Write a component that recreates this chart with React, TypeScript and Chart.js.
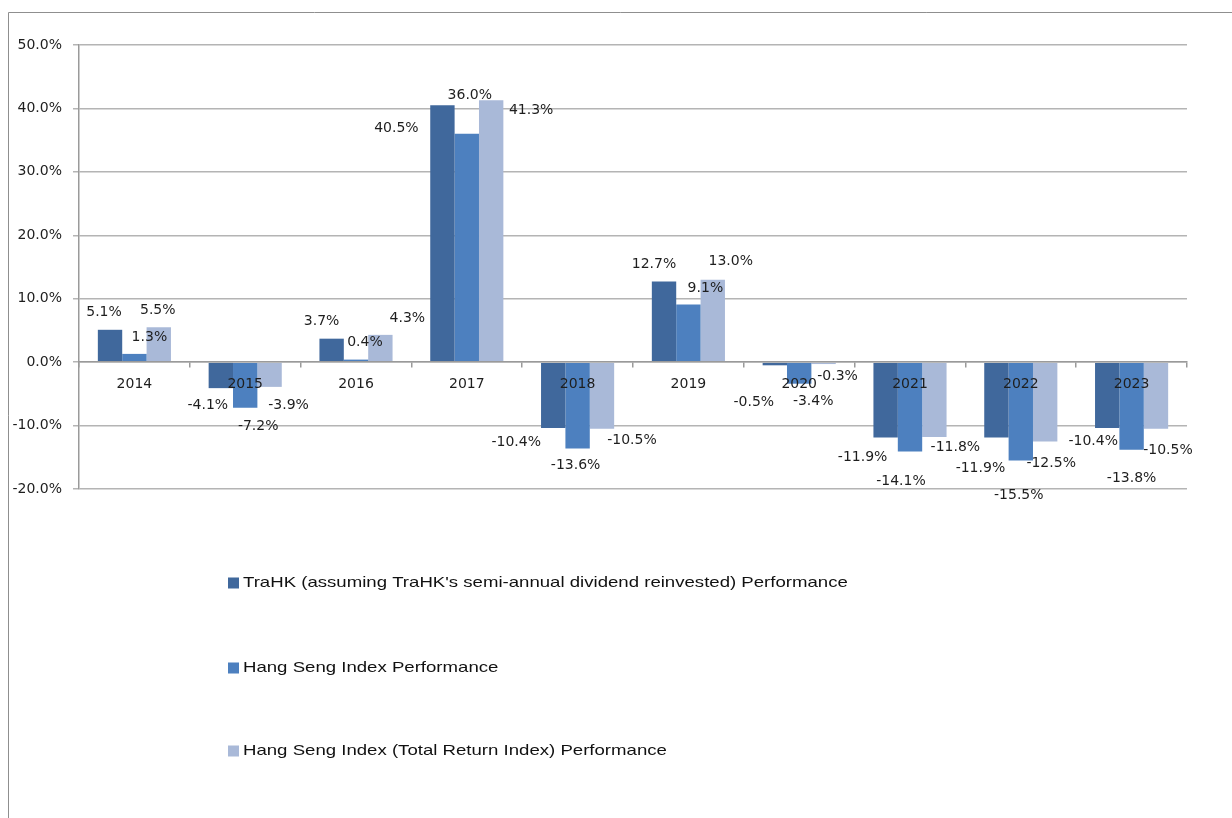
import React, { useEffect, useRef } from "react";
import { Chart, registerables } from "chart.js";

Chart.register(...registerables);

const categories = ["2014", "2015", "2016", "2017", "2018", "2019", "2020", "2021", "2022", "2023"];
const trahk = [5.1, -4.1, 3.7, 40.5, -10.4, 12.7, -0.5, -11.9, -11.9, -10.4];
const hsi = [1.3, -7.2, 0.4, 36.0, -13.6, 9.1, -3.4, -14.1, -15.5, -13.8];
const hsiTr = [5.5, -3.9, 4.3, 41.3, -10.5, 13.0, -0.3, -11.8, -12.5, -10.5];
const seriesNames = [
  "TraHK (assuming TraHK's semi-annual dividend reinvested) Performance",
  "Hang Seng Index Performance",
  "Hang Seng Index (Total Return Index) Performance",
];
const yTicks = [-20, -10, 0, 10, 20, 30, 40, 50];

// label placement nudges (dx, dy) from each bar's end, in pixels
const nudgeTrahk = [[-6, -17], [-13, 17], [-10, -17], [-46, 23], [-37, 14], [-10, -17], [-21, 37], [-23, 20], [-16, 31], [-14, 13]];
const nudgeHsi = [[15, -17], [13, 19], [9, -17], [3, -38], [-2, 17], [17, -16], [14, 18], [-9, 30], [-2, 35], [0, 29]];
const nudgeHsiTr = [[-1, -17], [19, 18], [27, -17], [40, 10], [30, 12], [18, -18], [14, 12], [21, 10], [6, 22], [12, 22]];
const nudges = [nudgeTrahk, nudgeHsi, nudgeHsiTr];

const colors = ["#40689c", "#4d80bf", "#a9b9d8"];
const AXIS_FONT = "'DejaVu Sans', sans-serif";

const framePlugin = {
  id: "frame",
  beforeDraw(chart: any) {
    const ctx = chart.ctx;
    ctx.save();
    ctx.strokeStyle = "#8f8f8f";
    ctx.lineWidth = 1;
    ctx.beginPath();
    ctx.moveTo(8.5, 818);
    ctx.lineTo(8.5, 12.5);
    ctx.lineTo(1232, 12.5);
    ctx.stroke();
    ctx.restore();
  },
};

const labelPlugin = {
  id: "valueLabels",
  afterDatasetsDraw(chart: any) {
    const ctx = chart.ctx;
    ctx.save();
    ctx.font = `14px ${AXIS_FONT}`;
    ctx.fillStyle = "#1e1e1e";
    ctx.textAlign = "center";
    ctx.textBaseline = "middle";
    chart.data.datasets.forEach((ds: any, i: number) => {
      const meta = chart.getDatasetMeta(i);
      meta.data.forEach((el: any, j: number) => {
        const v = ds.data[j] as number;
        const [dx, dy] = nudges[i][j];
        ctx.fillText(v.toFixed(1) + "%", el.x + dx, el.y + dy);
      });
    });
    ctx.restore();
  },
};

const legendPlugin = {
  id: "stackLegend",
  afterDraw(chart: any) {
    const ctx = chart.ctx;
    const rows = [583, 668, 751];
    ctx.save();
    chart.data.datasets.forEach((ds: any, i: number) => {
      const cy = rows[i];
      ctx.fillStyle = ds.backgroundColor;
      ctx.fillRect(228, cy - 5.5, 11, 11);
      ctx.save();
      ctx.translate(243, cy);
      ctx.scale(1.24, 1);
      ctx.font = "15px 'Liberation Sans', Arial, sans-serif";
      ctx.fillStyle = "#111111";
      ctx.textAlign = "left";
      ctx.textBaseline = "middle";
      ctx.fillText(ds.label, 0, 0);
      ctx.restore();
    });
    ctx.restore();
  },
};

export default function App() {
  const ref = useRef<HTMLCanvasElement | null>(null);

  useEffect(() => {
    if (!ref.current) return;
    const chart = new Chart(ref.current, {
      type: "bar",
      data: {
        labels: categories,
        datasets: [
          { label: seriesNames[0], data: trahk, backgroundColor: colors[0] },
          { label: seriesNames[1], data: hsi, backgroundColor: colors[1] },
          { label: seriesNames[2], data: hsiTr, backgroundColor: colors[2] },
        ],
      },
      options: {
        responsive: false,
        animation: false,
        events: [],
        layout: { padding: { left: 0, right: 45, top: 45, bottom: 329 } },
        datasets: { bar: { categoryPercentage: 0.66, barPercentage: 1 } } as any,
        plugins: { legend: { display: false }, tooltip: { enabled: false } },
        scales: {
          x: {
            type: "category",
            position: { y: 0 } as any,
            afterFit: (s: any) => { s.height = 0; },
            grid: { display: true, drawOnChartArea: false, drawTicks: true, tickLength: 5, color: "#9a9a9a", lineWidth: 1.5, offset: true, z: 1 } as any,
            border: { display: true, color: "#9a9a9a", width: 1.5, z: 1 } as any,
            ticks: { color: "#1e1e1e", font: { family: AXIS_FONT, size: 14 }, padding: 9, maxRotation: 0, autoSkip: false, z: 2 } as any,
          },
          y: {
            type: "linear",
            min: yTicks[0],
            max: yTicks[yTicks.length - 1],
            afterFit: (s: any) => { s.width = 79; },
            afterBuildTicks: (s: any) => { s.ticks = yTicks.map((v) => ({ value: v })); },
            grid: { color: "#b4b4b4", lineWidth: 1.5, tickLength: 6 },
            border: { display: true, color: "#9a9a9a", width: 1.5 },
            ticks: {
              color: "#1e1e1e",
              font: { family: AXIS_FONT, size: 14 },
              padding: 11,
              callback: (v: any) => Number(v).toFixed(1) + "%",
            },
          },
        },
      },
      plugins: [framePlugin, labelPlugin, legendPlugin],
    });
    return () => chart.destroy();
  }, []);

  return (
    <div style={{ position: "fixed", left: 0, top: 0, width: 1232, height: 818, background: "#fff" }}>
      <canvas ref={ref} width={1232} height={818} style={{ display: "block", width: 1232, height: 818 }} />
    </div>
  );
}
